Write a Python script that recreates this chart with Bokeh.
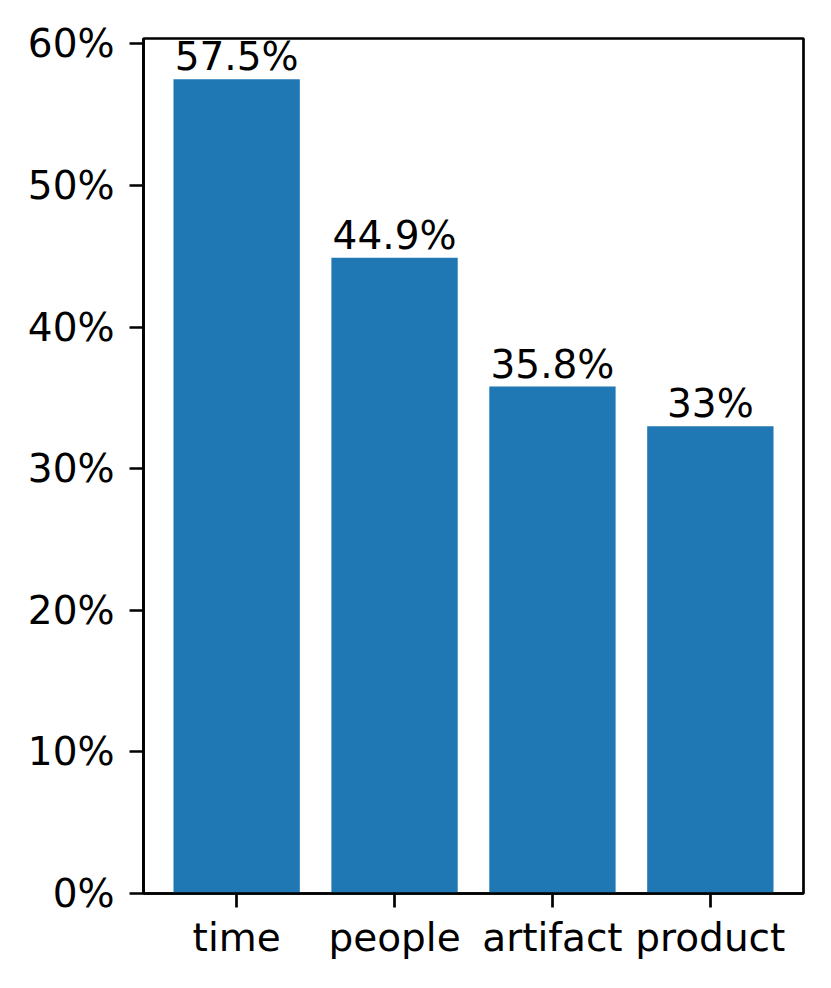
from bokeh.plotting import figure
from bokeh.models import Range1d, FixedTicker, ColumnDataSource
from bokeh.embed import file_html
from bokeh.resources import INLINE
from bokeh.core.properties import value

categories = ["time", "people", "artifact", "product"]
values = [57.5, 44.9, 35.8, 33.0]
labels = ["57.5%", "44.9%", "35.8%", "33%"]
y_ticks = [0, 10, 20, 30, 40, 50, 60]
y_tick_labels = ["0%", "10%", "20%", "30%", "40%", "50%", "60%"]

xs = list(range(len(categories)))
src = ColumnDataSource(dict(x=xs, top=values, lab=labels))

p = figure(width=823, height=980, output_backend="svg", toolbar_location=None,
           x_range=Range1d(-0.59, 3.59), y_range=Range1d(0, max(values) * 1.05),
           min_border_left=143, min_border_top=38, min_border_right=20, min_border_bottom=87)

p.vbar(x="x", top="top", width=0.8, source=src, color="#1f77b4", line_color=None)
p.text(x="x", y="top", text="lab", source=src, text_align="center", text_baseline="bottom",
       text_font=value("DejaVu Sans"), text_font_size="39px", text_color="black")

p.xgrid.visible = False
p.ygrid.visible = False
p.outline_line_color = "black"
p.outline_line_width = 2.7
p.outline_line_alpha = 1

for ax in (p.xaxis[0], p.yaxis[0]):
    ax.axis_line_color = "black"
    ax.axis_line_width = 2.7
    ax.major_tick_line_width = 2.7
    ax.major_tick_line_color = "black"
    ax.major_tick_out = 14
    ax.major_tick_in = 0
    ax.minor_tick_out = 0
    ax.minor_tick_in = 0
    ax.major_label_text_font = "DejaVu Sans"
    ax.major_label_text_font_size = "39px"
    ax.major_label_text_color = "black"

p.xaxis.ticker = FixedTicker(ticks=xs)
p.xaxis.major_label_overrides = {i: c for i, c in zip(xs, categories)}
p.xaxis.major_label_standoff = 7
p.yaxis.ticker = FixedTicker(ticks=y_ticks)
p.yaxis.major_label_overrides = {t: l for t, l in zip(y_ticks, y_tick_labels)}
p.yaxis.major_label_standoff = 15

open("out.html", "w").write(file_html(p, INLINE))
